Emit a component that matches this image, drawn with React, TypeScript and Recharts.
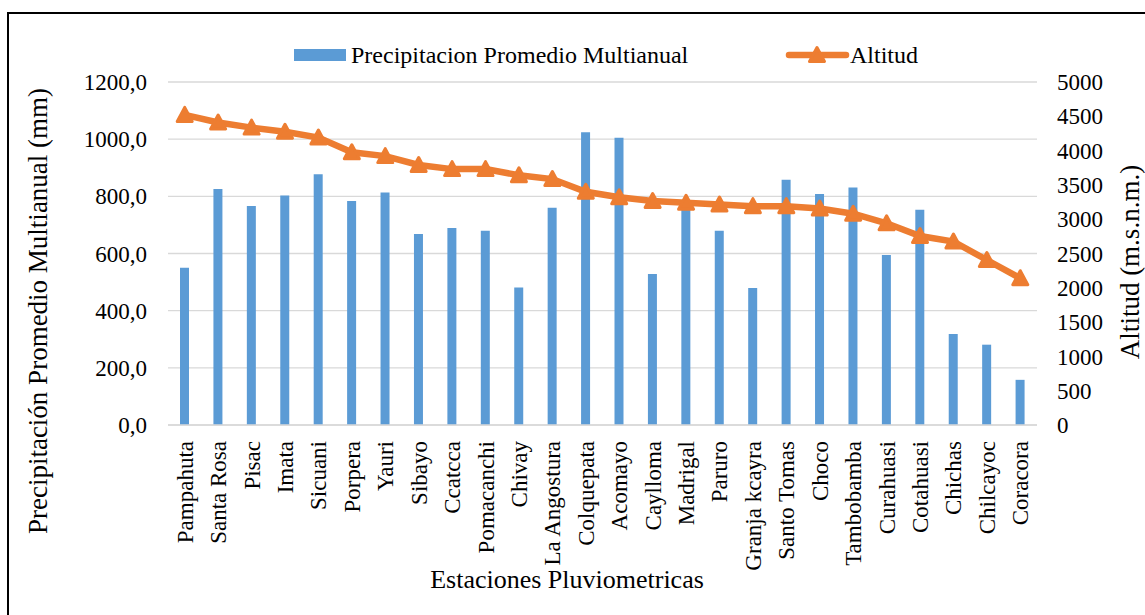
import {
  ComposedChart,
  Bar,
  Line,
  XAxis,
  YAxis,
  CartesianGrid,
  Legend
} from "recharts"

const FONT = "'Liberation Serif', 'Times New Roman', serif"
const BLUE = "#5B9BD5"
const ORANGE = "#ED7D31"

const stations = [
  "Pampahuta", "Santa Rosa", "Pisac", "Imata", "Sicuani", "Porpera", "Yauri",
  "Sibayo", "Ccatcca", "Pomacanchi", "Chivay", "La Angostura", "Colquepata",
  "Acomayo", "Caylloma", "Madrigal", "Paruro", "Granja kcayra", "Santo Tomas",
  "Choco", "Tambobamba", "Curahuasi", "Cotahuasi", "Chichas", "Chilcayoc", "Coracora"
]

// precipitacion promedio multianual (mm)
const precipitacion = [
  550, 826, 766, 803, 877, 784, 813, 668, 689, 680, 481, 760, 1024,
  1005, 528, 780, 680, 479, 858, 808, 831, 595, 753, 318, 281, 158
]

// altitud (m.s.n.m.)
const altitud = [
  4520, 4410, 4335, 4275, 4190, 3975, 3920, 3790, 3730, 3730, 3640, 3585, 3400,
  3320, 3265, 3240, 3215, 3190, 3190, 3155, 3080, 2940, 2755, 2675, 2405, 2140
]

const leftTicks = [0, 200, 400, 600, 800, 1000, 1200]
const rightTicks = [0, 500, 1000, 1500, 2000, 2500, 3000, 3500, 4000, 4500, 5000]

const data = stations.map((name, i) => ({
  name,
  precip: precipitacion[i],
  alt: altitud[i]
}))

const Triangle = (props: any) => {
  const { cx, cy, index } = props
  if (cx == null || cy == null) return <g key={index} />
  return (
    <path
      key={index}
      d={`M${cx},${cy - 7.5} L${cx + 7.5},${cy + 6.5} L${cx - 7.5},${cy + 6.5} Z`}
      fill={ORANGE}
      stroke={ORANGE}
      strokeWidth={3}
      strokeLinejoin="round"
    />
  )
}

const StationTick = (props: any) => {
  const { x, y, payload } = props
  return (
    <text
      transform={`translate(${x + 8},${y + 16}) rotate(-90)`}
      textAnchor="end"
      fontSize={23}
      fontFamily={FONT}
      fill="#000"
    >
      {payload.value}
    </text>
  )
}

const renderLegend = () => (
  <div style={{ position: "relative", width: 1145, height: 80 }}>
    <div style={{ position: "absolute", left: 294, top: 49, width: 52, height: 12, background: BLUE }} />
    <div style={{ position: "absolute", left: 351, top: 40, fontSize: 24, fontFamily: FONT, lineHeight: "30px", color: "#000", whiteSpace: "nowrap" }}>
      Precipitacion Promedio Multianual
    </div>
    <svg style={{ position: "absolute", left: 786, top: 43, overflow: "visible" }} width={64} height={24}>
      <line x1={3} y1={12} x2={60} y2={12} stroke={ORANGE} strokeWidth={6.5} strokeLinecap="round" />
      <path d="M31,4.5 L38.5,18.5 L23.5,18.5 Z" fill={ORANGE} stroke={ORANGE} strokeWidth={3} strokeLinejoin="round" />
    </svg>
    <div style={{ position: "absolute", left: 850, top: 40, fontSize: 24, fontFamily: FONT, lineHeight: "30px", color: "#000", whiteSpace: "nowrap" }}>
      Altitud
    </div>
  </div>
)

const tickStyle = { fill: "#000", fontSize: 23, fontFamily: FONT }

export default function App() {
  return (
    <div style={{ position: "absolute", left: 0, top: 0, width: 1145, height: 615, background: "#fff", overflow: "hidden" }}>
      <div style={{ position: "absolute", left: 7, top: 12, width: 1160, height: 620, borderLeft: "2px solid #000", borderTop: "2px solid #000" }} />

      <ComposedChart
        width={1145}
        height={615}
        data={data}
        margin={{ top: 82, right: 0, bottom: 0, left: 0 }}
        barCategoryGap={0}
      >
        <CartesianGrid yAxisId="left" vertical={false} stroke="#d9d9d9" strokeWidth={1.3} />

        <XAxis
          dataKey="name"
          height={190}
          interval={0}
          tickLine={false}
          tickSize={0}
          tickMargin={0}
          axisLine={{ stroke: "#d9d9d9", strokeWidth: 1.5 }}
          tick={<StationTick />}
          label={{
            content: () => (
              <text x={567} y={588} textAnchor="middle" fontSize={26} fontFamily={FONT} fill="#000">
                Estaciones Pluviometricas
              </text>
            )
          }}
        />

        <YAxis
          yAxisId="left"
          width={168}
          domain={[0, 1200]}
          ticks={leftTicks}
          tickFormatter={(v: number) => v.toFixed(1).replace(".", ",")}
          axisLine={false}
          tickLine={false}
          tickSize={0}
          tickMargin={21}
          tick={tickStyle}
          label={{
            content: () => (
              <text transform="translate(47,311) rotate(-90)" textAnchor="middle" fontSize={27} fontFamily={FONT} fill="#000">
                Precipitación Promedio Multianual (mm)
              </text>
            )
          }}
        />

        <YAxis
          yAxisId="right"
          orientation="right"
          width={108}
          domain={[0, 5000]}
          ticks={rightTicks}
          axisLine={false}
          tickLine={false}
          tickSize={0}
          tickMargin={20}
          tick={tickStyle}
          label={{
            content: () => (
              <text transform="translate(1139,262) rotate(-90)" textAnchor="middle" fontSize={27} fontFamily={FONT} fill="#000">
                Altitud (m.s.n.m.)
              </text>
            )
          }}
        />

        <Legend
          verticalAlign="middle"
          content={renderLegend}
          wrapperStyle={{ position: "absolute", top: 0, left: 0, width: 1145, height: 80 }}
        />

        <Bar
          yAxisId="left"
          dataKey="precip"
          name="Precipitacion Promedio Multianual"
          fill={BLUE}
          barSize={9}
          isAnimationActive={false}
        />

        <Line
          yAxisId="right"
          dataKey="alt"
          name="Altitud"
          type="linear"
          stroke={ORANGE}
          strokeWidth={6.5}
          dot={<Triangle />}
          activeDot={false}
          isAnimationActive={false}
        />
      </ComposedChart>
    </div>
  )
}
